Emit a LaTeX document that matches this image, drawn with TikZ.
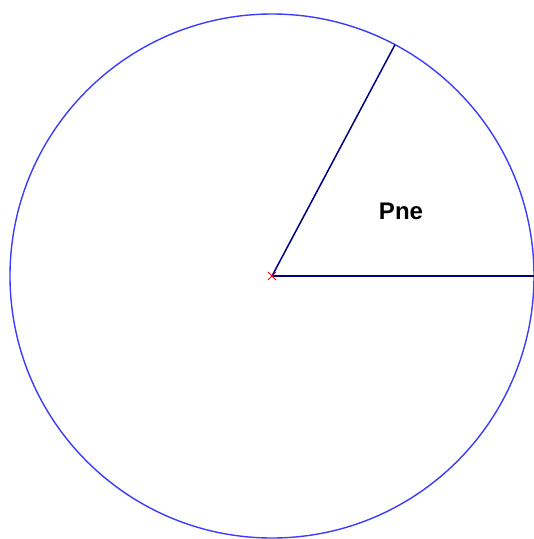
\documentclass[tikz,border=0pt]{standalone}
\usepackage{fontspec}
\setmainfont{Liberation Sans}
\usetikzlibrary{calc}
\begin{document}
\begin{tikzpicture}[x=1pt,y=-1pt,
  circ/.style={draw={rgb,255:red,60;green,60;blue,255},line width=1.4pt},
  radius line/.style={draw={rgb,255:red,0;green,0;blue,128},line width=1.5pt},
  centrecross/.style={draw=red,line width=0.9pt}]
\useasboundingbox (0,0) rectangle (534,539);
\coordinate (c) at (272,276);
\coordinate (e) at (533.5,276);
\coordinate (t) at ($(c)+(-62:262)$);
\draw[circ] (c) circle [radius=262];
\draw[radius line] (c) -- (e);
\draw[radius line] (c) -- (t);
\draw[centrecross] ($(c)+(-4,-4)$) -- ($(c)+(4,4)$) ($(c)+(-4,4)$) -- ($(c)+(4,-4)$);
\node[font=\bfseries\fontsize{24}{28}\selectfont] (lbl) at (401,211) {Pne};
\end{tikzpicture}
\end{document}
